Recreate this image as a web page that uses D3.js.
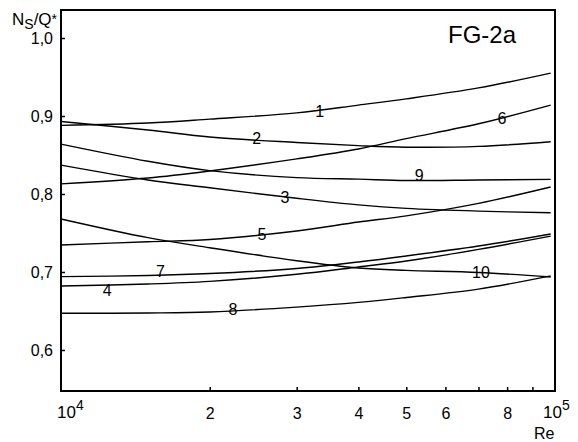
<!DOCTYPE html>
<html><head><meta charset="utf-8">
<script src="https://cdn.jsdelivr.net/npm/d3@7"></script>
<style>
body{margin:0;background:#fff;}
text{font-family:"Liberation Sans",Arial,sans-serif;fill:#000;}
</style></head>
<body><svg id="c" width="578" height="442"></svg>
<script>
const reValues = [1e4, 1.5e4, 2e4, 3e4, 4e4, 5e4, 7e4, 9.8e4];
const curve1  = [0.888, 0.891, 0.896, 0.904, 0.914, 0.922, 0.936, 0.955];
const curve2  = [0.893, 0.882, 0.873, 0.866, 0.862, 0.860, 0.861, 0.867];
const curve3  = [0.837, 0.818, 0.808, 0.7945, 0.786, 0.7815, 0.778, 0.776];
const curve4  = [0.682, 0.6846, 0.688, 0.697, 0.7064, 0.714, 0.729, 0.746];
const curve5  = [0.7346, 0.7388, 0.7417, 0.7526, 0.764, 0.772, 0.788, 0.809];
const curve6  = [0.813, 0.8205, 0.8295, 0.845, 0.8577, 0.871, 0.890, 0.914];
const curve7  = [0.694, 0.6955, 0.698, 0.7045, 0.7128, 0.7205, 0.7333, 0.7487];
const curve8  = [0.647, 0.6474, 0.6487, 0.655, 0.661, 0.6673, 0.678, 0.695];
const curve9  = [0.864, 0.842, 0.830, 0.821, 0.819, 0.8173, 0.818, 0.8188];
const curve10 = [0.768, 0.744, 0.7311, 0.7144, 0.7051, 0.702, 0.6994, 0.6936];
const seriesNames = ["1","2","3","4","5","6","7","8","9","10"];
const seriesValues = [curve1,curve2,curve3,curve4,curve5,curve6,curve7,curve8,curve9,curve10];
// label anchor positions (Re, value) for each curve number
const labelRe  = [3.34e4, 2.49e4, 2.84e4, 1.24e4, 2.55e4, 7.81e4, 1.59e4, 2.23e4, 5.31e4, 7.08e4];
const labelVal = [0.906, 0.872, 0.796, 0.677, 0.749, 0.897, 0.701, 0.6526, 0.824, 0.700];
const yTicks = [0.6, 0.7, 0.8, 0.9, 1.0];
const xMinorTicks = [2e4,3e4,4e4,5e4,6e4,7e4,8e4,9e4];
const xMinorLabels = ["2","3","4","5","6","","8",""];

const svg = d3.select("#c");
const x = d3.scaleLog().domain([1e4,1e5]).range([61,555]);
const y = d3.scaleLinear().domain([0.5474,1.0359]).range([391,10]);

// axes
const xa = svg.append("g").attr("transform","translate(0,391)")
  .call(d3.axisBottom(x).tickValues(xMinorTicks)
    .tickFormat((d,i)=>xMinorLabels[i]).tickSizeInner(-4).tickSizeOuter(0).tickPadding(17));
xa.select(".domain").remove();
xa.selectAll("line").attr("stroke","#000").attr("stroke-width",1.5);
xa.selectAll("text").attr("font-size",16).attr("font-family","Liberation Sans, Arial, sans-serif");

const ya = svg.append("g").attr("transform","translate(61,0)")
  .call(d3.axisLeft(y).tickValues(yTicks)
    .tickFormat(d=>d3.format(".1f")(d).replace(".",",")).tickSizeInner(-4).tickSizeOuter(0).tickPadding(8));
ya.select(".domain").remove();
ya.selectAll("line").attr("stroke","#000").attr("stroke-width",1.5);
ya.selectAll("text").attr("font-size",16).attr("font-family","Liberation Sans, Arial, sans-serif");

// frame
svg.append("rect").attr("x",x(1e4)).attr("y",y(1.0359)).attr("width",x(1e5)-x(1e4)).attr("height",y(0.5474)-y(1.0359))
  .attr("fill","none").attr("stroke","#000").attr("stroke-width",2);

// curves
const line = d3.line().x((d,i)=>x(reValues[i])).y(d=>y(d)).curve(d3.curveCatmullRom.alpha(0.5));
seriesValues.forEach(vals=>{
  svg.append("path").attr("d",line(vals)).attr("fill","none").attr("stroke","#000").attr("stroke-width",1.4);
});

// curve labels
seriesNames.forEach((n,i)=>{
  svg.append("text").attr("x",x(labelRe[i])).attr("y",y(labelVal[i])).attr("dy","0.36em")
    .attr("text-anchor","middle").attr("font-size",16).text(n);
});

// decade labels
function decade(xp, exp){
  const t = svg.append("text").attr("x",xp).attr("y",418).attr("font-size",17);
  t.append("tspan").text("10");
  t.append("tspan").attr("dy",-8).attr("font-size",14).text(exp);
}
decade(x(1e4)-4, "4");
decade(x(1e5)-12, "5");

svg.append("text").attr("x",534).attr("y",439).attr("font-size",16).text("Re");

// y label
const yl = svg.append("text").attr("x",12).attr("y",25).attr("font-size",17);
yl.append("tspan").text("N");
yl.append("tspan").attr("dy",4).attr("font-size",14).text("S");
yl.append("tspan").attr("dy",-4).text("/Q");
yl.append("tspan").attr("font-size",14).attr("dy",-1).text("*");

svg.append("text").attr("x",448).attr("y",43).attr("font-size",24).text("FG-2a");
</script></body></html>
